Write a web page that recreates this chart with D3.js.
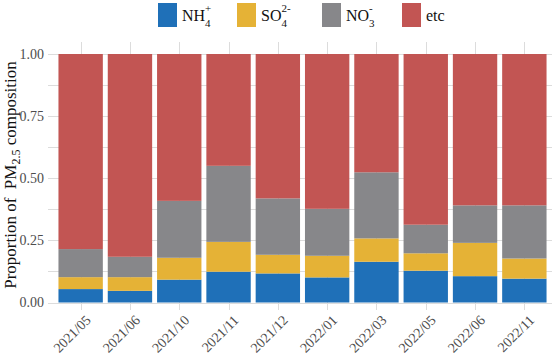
<!DOCTYPE html>
<html>
<head>
<meta charset="utf-8">
<script src="https://cdn.jsdelivr.net/npm/d3@7"></script>
<style>
  body { margin: 0; background: #fff; }
</style>
</head>
<body>
<svg id="chart" width="556" height="358" font-family="'Liberation Serif', 'Times New Roman', Tinos, 'DejaVu Serif', serif"></svg>
<script>
// data
var months = ["2021/05", "2021/06", "2021/10", "2021/11", "2021/12",
              "2022/01", "2022/03", "2022/05", "2022/06", "2022/11"];
var nh4 = [0.054, 0.047, 0.092, 0.124, 0.117, 0.101, 0.164, 0.128, 0.106, 0.096];
var so4 = [0.048, 0.055, 0.088, 0.120, 0.075, 0.087, 0.094, 0.070, 0.134, 0.081];
var no3 = [0.113, 0.082, 0.229, 0.306, 0.227, 0.189, 0.266, 0.115, 0.151, 0.214];
var yTicks = [0, 0.25, 0.5, 0.75, 1];
var series = ["nh4", "so4", "no3", "etc"];

var colors = {nh4: "#1f70b8", so4: "#e5b236", no3: "#87878a", etc: "#c25553"};

var rows = months.map(function (m, i) {
    var etc = 1 - nh4[i] - so4[i] - no3[i];
    return {month: m, nh4: nh4[i], so4: so4[i], no3: no3[i], etc: etc};
});

var svg = d3.select("#chart"),
    panel = {left: 48, right: 552, top: 42, bottom: 310};

var x = d3.scaleBand()
    .domain(months)
    .range([56, 549])
    .paddingInner(0.1)
    .paddingOuter(0.05);

var y = d3.scaleLinear()
    .domain([0, 1])
    .range([302.5, 54]);

// grid
var grid = svg.append("g").attr("stroke", "#dcdcdc").attr("stroke-width", 1);
grid.selectAll("line.h")
    .data(d3.range(0, 1.001, 0.125))
    .enter().append("line")
    .attr("class", "h")
    .attr("x1", panel.left).attr("x2", panel.right)
    .attr("y1", function (d) { return Math.round(y(d)) + 0.5; })
    .attr("y2", function (d) { return Math.round(y(d)) + 0.5; });
grid.selectAll("line.v")
    .data(months)
    .enter().append("line")
    .attr("class", "v")
    .attr("x1", function (d) { return Math.round(x(d) + x.bandwidth() / 2) + 0.5; })
    .attr("x2", function (d) { return Math.round(x(d) + x.bandwidth() / 2) + 0.5; })
    .attr("y1", panel.top).attr("y2", panel.bottom);

// bars
var stack = d3.stack().keys(series)(rows);
svg.append("g").selectAll("g")
    .data(stack)
    .enter().append("g")
    .attr("fill", function (d) { return colors[d.key]; })
    .selectAll("rect")
    .data(function (d) { return d; })
    .enter().append("rect")
    .attr("x", function (d) { return x(d.data.month); })
    .attr("width", x.bandwidth())
    .attr("y", function (d) { return y(d[1]); })
    .attr("height", function (d) { return y(d[0]) - y(d[1]); });

// y axis labels
svg.append("g").selectAll("text")
    .data(yTicks)
    .enter().append("text")
    .attr("x", 44)
    .attr("y", function (d) { return y(d); })
    .attr("dy", "0.35em")
    .attr("text-anchor", "end")
    .attr("fill", "#4d4d4d")
    .style("font-size", "14px")
    .text(d3.format(".2f"));

// x axis labels
svg.append("g").selectAll("text")
    .data(months)
    .enter().append("text")
    .attr("transform", function (d) {
        return "translate(" + (x(d) + x.bandwidth() / 2 + 4) + ",314) rotate(-45)";
    })
    .attr("text-anchor", "end")
    .attr("dy", "0.7em")
    .attr("fill", "#4d4d4d")
    .style("font-size", "14px")
    .text(function (d) { return d; });

// y title
var yt = svg.append("text")
    .attr("transform", "translate(16,175) rotate(-90)")
    .attr("text-anchor", "middle")
    .attr("fill", "#111")
    .style("font-size", "17px");
yt.append("tspan").text("Proportion of\u00a0\u00a0PM");
yt.append("tspan").attr("dy", 4).style("font-size", "12px").text("2.5");
yt.append("tspan").attr("dy", -4).text(" composition");

// legend
var legend = [
    {key: "nh4", x: 158, base: "NH", sub: "4", sup: "+"},
    {key: "so4", x: 237, base: "SO", sub: "4", sup: "2-"},
    {key: "no3", x: 322, base: "NO", sub: "3", sup: "-"},
    {key: "etc", x: 402, base: "etc", sub: "", sup: ""}
];
var lg = svg.append("g").selectAll("g")
    .data(legend)
    .enter().append("g");
lg.append("rect")
    .attr("x", function (d) { return d.x; })
    .attr("y", 3)
    .attr("width", 19)
    .attr("height", 24)
    .attr("fill", function (d) { return colors[d.key]; });
lg.each(function (d) {
    var g = d3.select(this);
    var t = g.append("text")
        .attr("x", d.x + 24)
        .attr("y", 21)
        .attr("fill", "#111")
        .style("font-size", "16px")
        .text(d.base);
    if (d.sub) {
        var w = t.node().getComputedTextLength();
        g.append("text")
            .attr("x", d.x + 24 + w)
            .attr("y", 12)
            .attr("fill", "#111")
            .style("font-size", "11px")
            .text(d.sup);
        g.append("text")
            .attr("x", d.x + 24 + w)
            .attr("y", 27)
            .attr("fill", "#111")
            .style("font-size", "11px")
            .text(d.sub);
    }
});
</script>
</body>
</html>
